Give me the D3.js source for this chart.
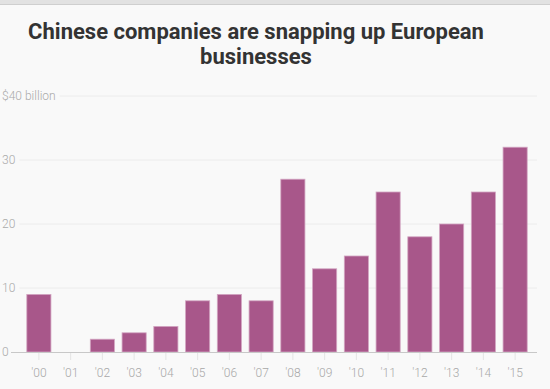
<!DOCTYPE html>
<html>
<head>
<meta charset="utf-8">
<script src="https://cdn.jsdelivr.net/npm/d3@7"></script>
<style>
  body { margin: 0; background: #f9f9f9; }
  svg { display: block; }
</style>
</head>
<body>
<svg id="canvas" width="550" height="389"></svg>
<script>
// data
const years = ["'00", "'01", "'02", "'03", "'04", "'05", "'06", "'07",
               "'08", "'09", "'10", "'11", "'12", "'13", "'14", "'15"];
const deals = [9, 0, 2, 3, 4, 8, 9, 8, 27, 13, 15, 25, 18, 20, 25, 32];
const yTicks = [0, 10, 20, 30, 40];
const titleLines = ["Chinese companies are snapping up European", "businesses"];

const svg = d3.select("#canvas");
const W = 550, H = 389;

// top strip
svg.append("rect").attr("x", 0).attr("y", 0).attr("width", W).attr("height", 4).attr("fill", "#e2e2e2");
svg.append("line").attr("x1", 0).attr("x2", W).attr("y1", 4.5).attr("y2", 4.5).attr("stroke", "#cfcfcf");

// title
const title = svg.append("text")
  .attr("text-anchor", "middle")
  .attr("font-family", "Roboto, 'Noto Sans', sans-serif")
  .attr("font-weight", 700)
  .attr("font-size", 22)
  .attr("fill", "#333");
titleLines.forEach(function(t, i) {
  title.append("tspan").attr("x", 256).attr("y", 39 + i * 25).text(t);
});

const x = d3.scaleBand()
  .domain(years)
  .range([23, 531])
  .paddingInner(0.24)
  .paddingOuter(0.12);

const y = d3.scaleLinear().domain([0, 40]).range([352, 96]);

const labelFont = "Roboto, sans-serif";

// gridlines + y labels
const gy = svg.append("g");
yTicks.forEach(function(v) {
  const label = v === 40 ? "$40 billion" : String(v);
  const t = gy.append("text")
    .attr("x", 2).attr("y", y(v)).attr("dy", "0.35em")
    .attr("font-family", labelFont).attr("font-weight", 300).attr("font-size", 12)
    .attr("fill", "#aaa").text(label);
  const w = t.node().getComputedTextLength();
  if (v > 0) {
    gy.append("line")
      .attr("x1", w + 6).attr("x2", 537)
      .attr("y1", y(v)).attr("y2", y(v))
      .attr("stroke", "#ececec");
  }
});

// x tick marks and labels
const gx = svg.append("g");
years.forEach(function(d) {
  const cx = x(d) + x.bandwidth() / 2;
  gx.append("line").attr("x1", cx).attr("x2", cx).attr("y1", 352).attr("y2", 360)
    .attr("stroke", "#e4e4e4");
  gx.append("text").attr("x", cx).attr("y", 377).attr("text-anchor", "middle")
    .attr("font-family", labelFont).attr("font-weight", 300).attr("font-size", 12)
    .attr("fill", "#a8a8a8").text(d);
});

// bars
svg.append("g").selectAll("rect")
  .data(deals)
  .enter().append("rect")
  .attr("x", function(d, i) { return x(years[i]); })
  .attr("width", x.bandwidth())
  .attr("y", function(d) { return y(d); })
  .attr("height", function(d) { return y(0) - y(d); })
  .attr("fill", "#a8578a")
  .attr("stroke", "#d3a6c2")
  .attr("stroke-width", 0.8)
  .attr("display", function(d) { return d > 0 ? null : "none"; });

// baseline
svg.append("line").attr("x1", 11).attr("x2", 537).attr("y1", 352.5).attr("y2", 352.5)
  .attr("stroke", "#c8c8c8");
</script>
</body>
</html>
